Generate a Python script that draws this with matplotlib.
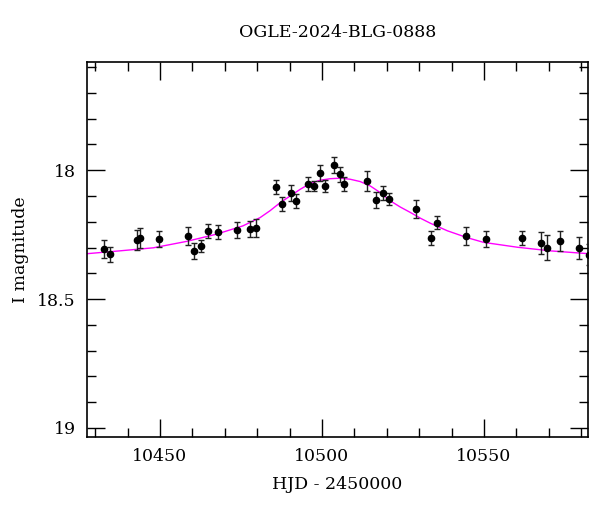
# OGLE-2024-BLG-0888 light curve: I-band photometry with model fit

import numpy as np
import matplotlib
matplotlib.use('Agg')
import matplotlib.pyplot as plt
from matplotlib.ticker import MultipleLocator

plt.rcParams['font.family'] = ['DejaVu Serif']

# Photometry (HJD - 2450000, I mag, error)
hjd = [10432.9, 10434.7, 10442.8, 10443.9, 10449.6, 10458.7, 10460.6, 10462.8,
       10464.9, 10468.0, 10473.7, 10477.7, 10479.7, 10485.7, 10487.7, 10490.6,
       10491.9, 10495.6, 10497.7, 10499.4, 10500.9, 10503.6, 10505.6, 10506.9,
       10513.8, 10516.8, 10518.7, 10520.8, 10528.9, 10533.5, 10535.6, 10544.6,
       10550.5, 10561.6, 10567.6, 10569.6, 10573.5, 10579.4, 10582.5]
mag = [18.304, 18.326, 18.270, 18.264, 18.266, 18.255, 18.312, 18.295,
       18.236, 18.239, 18.233, 18.229, 18.225, 18.065, 18.132, 18.089,
       18.120, 18.054, 18.062, 18.010, 18.062, 17.981, 18.016, 18.053,
       18.043, 18.116, 18.087, 18.112, 18.151, 18.262, 18.203, 18.257,
       18.267, 18.264, 18.283, 18.301, 18.275, 18.301, 18.328]
err = [0.035, 0.029, 0.038, 0.039, 0.031, 0.035, 0.031, 0.023,
       0.027, 0.027, 0.031, 0.031, 0.035, 0.027, 0.027, 0.031,
       0.028, 0.027, 0.019, 0.031, 0.024, 0.031, 0.030, 0.026,
       0.039, 0.031, 0.027, 0.024, 0.036, 0.027, 0.027, 0.035,
       0.032, 0.027, 0.043, 0.048, 0.039, 0.043, 0.040]

# Model curve
model_t = [10427.4, 10437.5, 10448.0, 10458.3, 10467.5, 10475.6, 10480.9, 10484.0,
           10487.1, 10490.2, 10493.3, 10496.3, 10499.4, 10502.5, 10505.6, 10508.7,
           10511.8, 10514.9, 10518.0, 10521.1, 10524.2, 10527.3, 10530.5, 10533.5,
           10538.7, 10544.9, 10549.9, 10560.4, 10570.6, 10582.4]
model_m = [18.324, 18.313, 18.301, 18.276, 18.248, 18.216, 18.184, 18.157,
           18.126, 18.100, 18.074, 18.052, 18.039, 18.033, 18.031, 18.035,
           18.044, 18.061, 18.087, 18.119, 18.143, 18.164, 18.187, 18.206,
           18.235, 18.262, 18.280, 18.299, 18.313, 18.324]

fig = plt.figure(figsize=(6, 5.12), dpi=100)
ax = fig.add_axes([0.145, 0.1465, 0.835, 0.7325])

ax.plot(model_t, model_m, color='magenta', lw=1.0, zorder=2)
ax.errorbar(hjd, mag, yerr=err, fmt='o', color='black', ms=4.5,
            ecolor='#222222', elinewidth=1.0, capsize=2.5, capthick=1.0, zorder=3)

ax.set_xlim(10427.5, 10582.1)
ax.set_ylim(19.035, 17.58)

ax.xaxis.set_major_locator(MultipleLocator(50))
ax.xaxis.set_minor_locator(MultipleLocator(10))
ax.yaxis.set_major_locator(MultipleLocator(0.5))
ax.yaxis.set_minor_locator(MultipleLocator(0.1))
ax.set_yticks([18, 18.5, 19])
ax.set_yticklabels(['18', '18.5', '19'])

ax.tick_params(which='both', direction='in', top=True, right=True, colors='black')
ax.tick_params(which='major', length=13, width=1.0, labelsize=12.5, pad=8)
ax.tick_params(which='minor', length=6.5, width=1.0)
for s in ax.spines.values():
    s.set_linewidth(1.2)

ax.set_xlabel('HJD - 2450000', fontsize=12.5, labelpad=8)
ax.set_ylabel('I magnitude', fontsize=12.5, labelpad=6)
ax.set_title('OGLE-2024-BLG-0888', fontsize=12.5, pad=18)

fig.savefig('out.png', dpi=100)
